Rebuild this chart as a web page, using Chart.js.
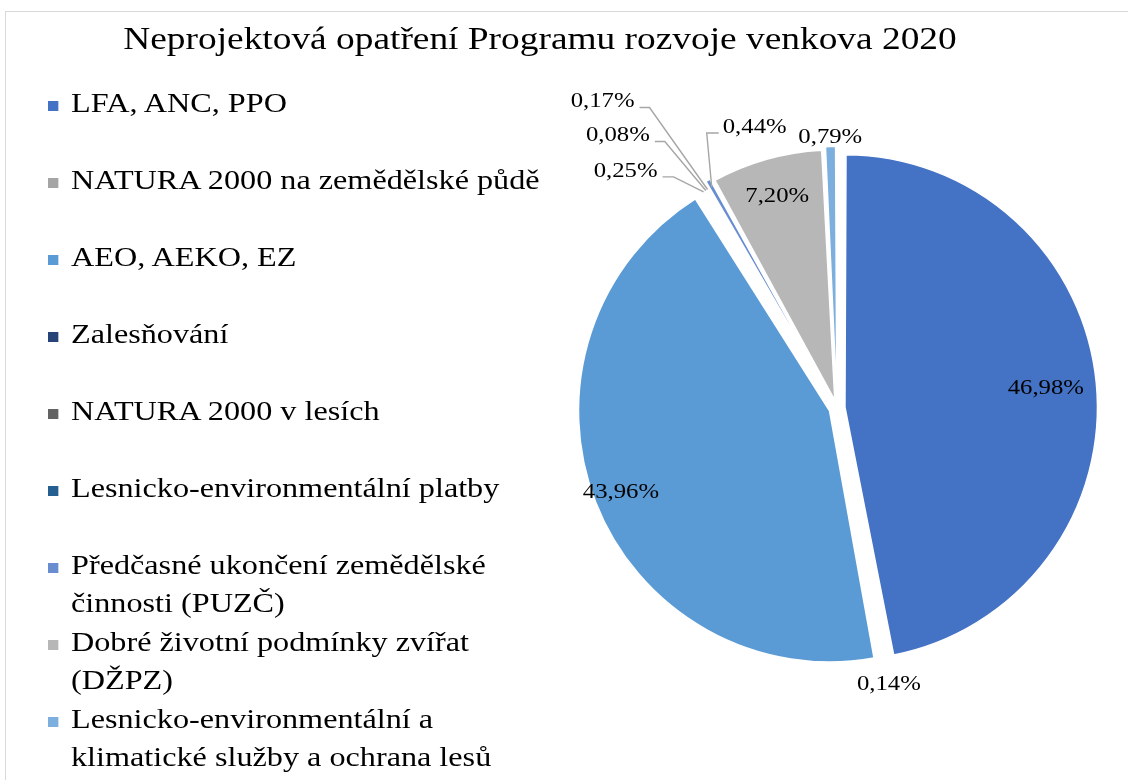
<!DOCTYPE html>
<html lang="cs">
<head>
<meta charset="utf-8">
<title>Neprojektová opatření PRV 2020</title>
<script src="https://cdn.jsdelivr.net/npm/chart.js@4.4.1/dist/chart.umd.min.js"></script>
<style>
    html, body { margin: 0; padding: 0; background: #fff; overflow: hidden; }
    #wrap { position: relative; width: 1128px; height: 780px; font-family: "Liberation Serif", "Times New Roman", serif; color: #000; }
    #frame { position: absolute; left: 5px; top: 11px; width: 1200px; height: 900px; border: 1.5px solid #d9d9d9; }
    #title { position: absolute; left: 0; width: 1080px; top: 22px; text-align: center; font-size: 32.5px; line-height: 33px; white-space: nowrap; transform: scaleX(1.15); transform-origin: 540px 0; }
    #legend { position: absolute; left: 48px; top: 84px; margin: 0; padding: 0; list-style: none; font-size: 28px; line-height: 38px; white-space: nowrap; }
    #legend li { position: relative; height: 77px; padding-left: 20px; transform: scaleX(1.15); transform-origin: 0 0; }
    #legend .box { position: absolute; left: 0; top: 17px; width: 9px; height: 10px; }
    #chart { position: absolute; left: 0; top: 0; }
</style>
</head>
<body>
<div id="wrap">
    <div id="frame"></div>
    <canvas id="chart" width="1128" height="780"></canvas>
    <div id="title">Neprojektová opatření Programu rozvoje venkova 2020</div>
    <ul id="legend"></ul>
</div>
<script>
// categories (multi-line ones are split the way the legend wraps them)
const categories = [
    'LFA, ANC, PPO',
    'NATURA 2000 na zemědělské půdě',
    'AEO, AEKO, EZ',
    'Zalesňování',
    'NATURA 2000 v lesích',
    'Lesnicko-environmentální platby',
    ['Předčasné ukončení zemědělské', 'činnosti (PUZČ)'],
    ['Dobré životní podmínky zvířat', '(DŽPZ)'],
    ['Lesnicko-environmentální a', 'klimatické služby a ochrana lesů']
];

// share of each measure, %
const shares = [46.98, 0.14, 43.96, 0.25, 0.08, 0.17, 0.44, 7.20, 0.79];

const colors = ['#4472C4', '#A5A5A5', '#5B9BD5', '#264478', '#636363', '#255E91', '#698ED0', '#B7B7B7', '#7CAFDD'];

// where the percentage goes: fraction of the radius (null = label with leader line)
const labelDist = [0.82, 1.11, 0.91, null, null, null, null, 0.86, 1.07];
// leader lines for the tiny slices: elbow relative to the slice edge, then a short tail
const leaders = {
    3: {dx: -30, dy: -15, tail: -11},
    4: {dx: -41, dy: -49, tail: -10},
    5: {dx: -58, dy: -82, tail: -10},
    6: {dx: -5, dy: -54, tail: 12}
};

function pct(v) {
    return v.toFixed(2).replace('.', ',') + '%';
}

// text in the source is a bit wider than Liberation Serif
const TEXT_STRETCH = 1.15;

function stretchedText(ctx, text, x, y) {
    ctx.save();
    ctx.translate(x, y);
    ctx.scale(TEXT_STRETCH, 1);
    ctx.fillText(text, 0, 0);
    ctx.restore();
}

const sliceLabels = {
    id: 'sliceLabels',
    afterDatasetsDraw(chart) {
        const ctx = chart.ctx;
        const meta = chart.getDatasetMeta(0);
        // Chart.js pushes an exploded arc out by offset / 4
        const shift = (chart.data.datasets[0].offset || 0) / 4;
        ctx.save();
        ctx.font = '21.5px "Liberation Serif"';
        ctx.fillStyle = '#000';
        ctx.strokeStyle = '#a6a6a6';
        ctx.lineWidth = 1.4;
        ctx.textBaseline = 'middle';
        meta.data.forEach((arc, i) => {
            const p = arc.getProps(['x', 'y', 'startAngle', 'endAngle', 'outerRadius'], true);
            const mid = (p.startAngle + p.endAngle) / 2;
            const cos = Math.cos(mid), sin = Math.sin(mid);
            const text = pct(chart.data.datasets[0].data[i]);
            const lead = leaders[i];
            if (lead) {
                const sx = p.x + cos * (p.outerRadius + shift);
                const sy = p.y + sin * (p.outerRadius + shift);
                const ex = sx + lead.dx, ey = sy + lead.dy;
                const tx = ex + lead.tail;
                ctx.beginPath();
                ctx.moveTo(sx, sy);
                ctx.lineTo(ex, ey);
                ctx.lineTo(tx, ey);
                ctx.stroke();
                ctx.textAlign = lead.tail < 0 ? 'right' : 'left';
                stretchedText(ctx, text, tx + (lead.tail < 0 ? -5 : 4), ey - 6);
            } else {
                const r = shift + p.outerRadius * labelDist[i];
                ctx.textAlign = 'center';
                stretchedText(ctx, text, p.x + cos * r, p.y + sin * r);
            }
        });
        ctx.restore();
    }
};

const chart = new Chart(document.getElementById('chart'), {
    type: 'pie',
    data: {
        labels: categories,
        datasets: [{
            data: shares,
            backgroundColor: colors,
            borderColor: '#fff',
            borderWidth: 1.5,
            offset: 32,
            clip: false
        }]
    },
    options: {
        responsive: false,
        animation: false,
        radius: 246,
        layout: {
            padding: {left: 560, right: 14, top: 130, bottom: 94}
        },
        plugins: {
            legend: {display: false},
            title: {display: false},
            tooltip: {enabled: false}
        }
    },
    plugins: [sliceLabels]
});

// legend on the left, built from the chart's own labels/colours
const legendList = document.getElementById('legend');
chart.data.labels.forEach((label, i) => {
    const li = document.createElement('li');
    const box = document.createElement('span');
    box.className = 'box';
    box.style.background = chart.data.datasets[0].backgroundColor[i];
    li.appendChild(box);
    const lines = Array.isArray(label) ? label : [label];
    lines.forEach((line, k) => {
        if (k > 0) li.appendChild(document.createElement('br'));
        li.appendChild(document.createTextNode(line));
    });
    legendList.appendChild(li);
});
</script>
</body>
</html>
